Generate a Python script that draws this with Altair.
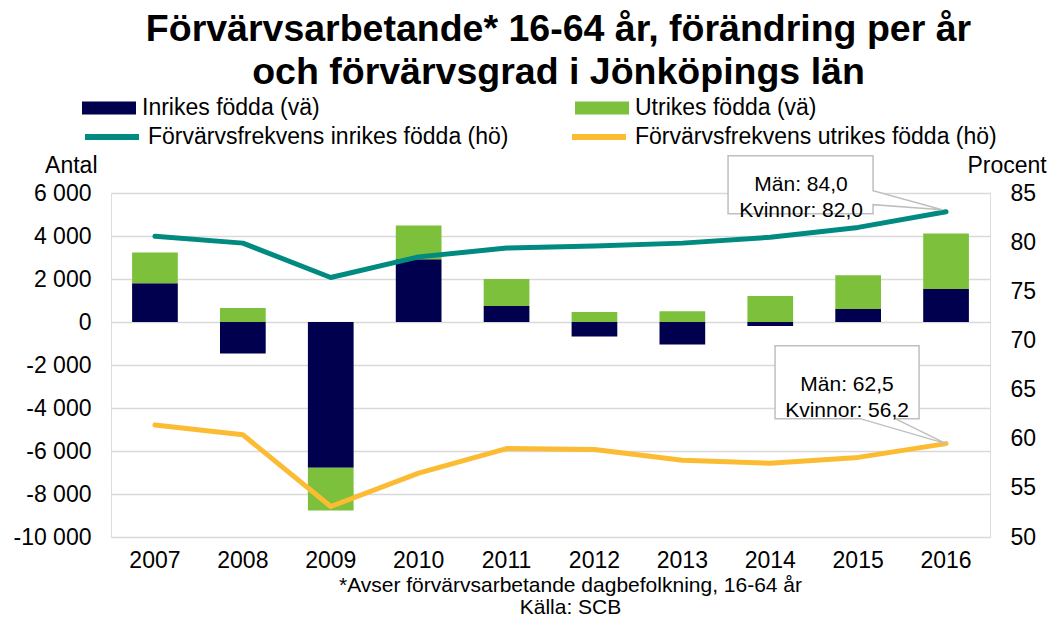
import altair as alt
import pandas as pd

# ---- data ----
years = ["2007", "2008", "2009", "2010", "2011", "2012", "2013", "2014", "2015", "2016"]
inrikes = [1800, -1470, -6780, 2920, 750, -680, -1050, -190, 600, 1540]
utrikes = [1430, 650, -1990, 1570, 1250, 470, 500, 1210, 1570, 2580]
frekv_inrikes = [80.6, 79.9, 76.4, 78.5, 79.4, 79.6, 79.9, 80.5, 81.5, 83.1]
frekv_utrikes = [61.4, 60.4, 53.1, 56.5, 59.0, 58.9, 57.8, 57.5, 58.1, 59.5]

bar_series = ["Inrikes födda (vä)", "Utrikes födda (vä)"]
line_series = ["Förvärvsfrekvens inrikes födda (hö)", "Förvärvsfrekvens utrikes födda (hö)"]
callout_inrikes = "Män: 84,0\nKvinnor: 82,0"
callout_utrikes = "Män: 62,5\nKvinnor: 56,2"

title_lines = ["Förvärvsarbetande* 16-64 år, förändring per år", "och förvärvsgrad i Jönköpings län"]
foot_lines = ["*Avser förvärvsarbetande dagbefolkning, 16-64 år", "Källa: SCB"]

NAVY = "#00004F"
GREEN = "#7DC03C"
TEAL = "#008A80"
YELLOW = "#FBBC33"
GRID = "#D9D9D9"
FONT = "Liberation Sans"

bars_df = pd.DataFrame(
    [{"year": y, "serie": bar_series[0], "value": v, "ord": 0} for y, v in zip(years, inrikes)]
    + [{"year": y, "serie": bar_series[1], "value": v, "ord": 1} for y, v in zip(years, utrikes)]
)
lines_df = pd.DataFrame(
    [{"year": y, "serie": line_series[0], "value": v} for y, v in zip(years, frekv_inrikes)]
    + [{"year": y, "serie": line_series[1], "value": v} for y, v in zip(years, frekv_utrikes)]
)
call1_df = pd.DataFrame([{"year": years[-1], "value": frekv_inrikes[-1], "label": callout_inrikes}])
call2_df = pd.DataFrame([{"year": years[-1], "value": frekv_utrikes[-1], "label": callout_utrikes}])

x_enc = alt.X(
    "year:N",
    sort=years,
    scale=alt.Scale(paddingInner=0.48, paddingOuter=0.24),
    axis=alt.Axis(
        title=foot_lines,
        titleFontSize=21,
        titleFontWeight="normal",
        titleLineHeight=22,
        titleX=459,
        titleY=37,
        titleBaseline="top",
        titleAlign="center",
        labelFontSize=23,
        labelAngle=0,
        labelPadding=12,
        domain=False,
        ticks=False,
        grid=False,
    ),
)

left_axis = alt.Axis(
    values=list(range(-10000, 6001, 2000)),
    labelExpr="(datum.value < 0 ? '-' : '') + replace(format(abs(datum.value), ','), ',', ' ')",
    labelFontSize=23,
    labelPadding=20,
    domain=False,
    ticks=False,
    grid=True,
    gridColor=GRID,
    gridWidth=1.5,
    title="Antal",
    titleAngle=0,
    titleFontSize=23,
    titleFontWeight="normal",
    titleAlign="right",
    titleBaseline="middle",
    titleX=-14,
    titleY=-28,
)

right_axis = alt.Axis(
    orient="right",
    values=list(range(50, 86, 5)),
    labelFontSize=23,
    labelPadding=20,
    domain=False,
    ticks=False,
    grid=False,
    title="Procent",
    titleAngle=0,
    titleFontSize=23,
    titleFontWeight="normal",
    titleAlign="left",
    titleBaseline="middle",
    titleX=-23,
    titleY=-28,
)

bars = alt.Chart(bars_df).mark_bar().encode(
    x=x_enc,
    y=alt.Y("value:Q", stack="zero", scale=alt.Scale(domain=[-10000, 6000], nice=False), axis=left_axis),
    fill=alt.Fill(
        "serie:N",
        scale=alt.Scale(domain=bar_series, range=[NAVY, GREEN]),
        legend=alt.Legend(
            title=None,
            orient="none",
            legendX=-29,
            legendY=-112,
            direction="horizontal",
            columns=2,
            columnPadding=255,
            symbolType="M-1,-0.24H1V0.24H-1Z",
            symbolSize=2916,
            symbolStrokeWidth=0,
            labelFontSize=23,
            labelOffset=6,
            labelLimit=600,
            padding=0,
        ),
    ),
    order=alt.Order("ord:Q"),
)

y_right = alt.Y("value:Q", scale=alt.Scale(domain=[50, 85], nice=False), axis=right_axis)

lines = alt.Chart(lines_df).mark_line(strokeWidth=5, strokeCap="round", strokeJoin="round").encode(
    x=alt.X("year:N", sort=years),
    y=y_right,
    stroke=alt.Stroke(
        "serie:N",
        scale=alt.Scale(domain=line_series, range=[TEAL, YELLOW]),
        legend=alt.Legend(
            title=None,
            orient="none",
            legendX=-29,
            legendY=-86,
            direction="horizontal",
            columns=2,
            columnPadding=51,
            symbolType="stroke",
            symbolSize=2916,
            symbolStrokeWidth=6,
            labelFontSize=23,
            labelOffset=6,
            labelLimit=600,
            padding=0,
        ),
    ),
)

box_style = dict(size=4, filled=True, fill="white", stroke="#BFBFBF", strokeWidth=1.5, opacity=1)
box1 = alt.Chart(call1_df).mark_point(
    shape="M-218,-56H-73V-21L-4,-2L-73,-7V2H-218Z", **box_style
).encode(x=alt.X("year:N", sort=years), y="value:Q")
box2 = alt.Chart(call2_df).mark_point(
    shape="M-171,-98H-27V-25H-51L0,0L-86,-25H-171Z", **box_style
).encode(x=alt.X("year:N", sort=years), y="value:Q")

txt_style = dict(fontSize=21, font=FONT, lineBreak="\n", lineHeight=26, align="center", baseline="middle", color="black")
text1 = alt.Chart(call1_df).mark_text(dx=-145, dy=-27, **txt_style).encode(
    x=alt.X("year:N", sort=years), y="value:Q", text="label:N"
)
text2 = alt.Chart(call2_df).mark_text(dx=-99, dy=-59, **txt_style).encode(
    x=alt.X("year:N", sort=years), y="value:Q", text="label:N"
)

right = alt.layer(lines, box1, box2, text1, text2)

chart = (
    alt.layer(bars, right)
    .resolve_scale(y="independent", fill="independent", stroke="independent")
    .properties(
        width=879,
        height=344,
        autosize=alt.AutoSizeParams(type="none"),
        padding={"left": 103, "top": 185, "right": 57, "bottom": 80},
        title=alt.TitleParams(
            text=title_lines,
            fontSize=37.5,
            fontWeight="bold",
            font=FONT,
            lineHeight=43,
            anchor="middle",
            color="black",
            dx=8,
            dy=15,
            offset=5,
        ),
    )
    .configure_view(stroke=None)
    .configure(font=FONT)
    .configure_axis(labelColor="black", titleColor="black", labelFont=FONT, titleFont=FONT)
    .configure_legend(labelColor="black", labelFont=FONT)
)

chart.save("out.html", embed_options={"renderer": "svg", "actions": False})
